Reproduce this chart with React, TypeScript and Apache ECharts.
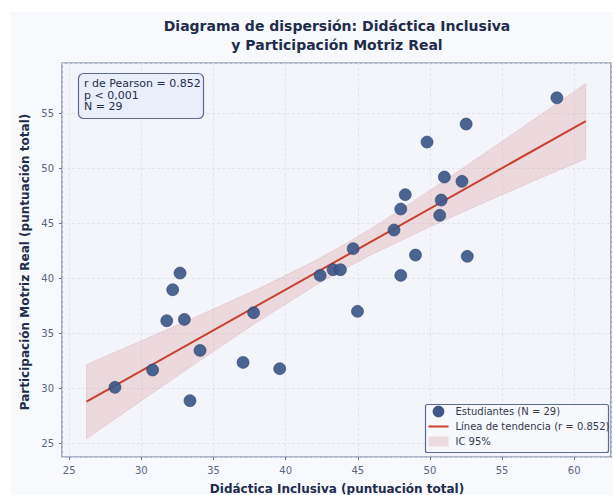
import React, { useEffect, useRef } from "react";
import * as echarts from "echarts";

const studentsX = [28.17, 30.78, 31.76, 32.17, 32.68, 32.98, 33.37, 34.07, 37.05, 37.78, 39.59, 42.39, 43.29, 43.8, 44.68, 44.98, 47.51, 47.98, 47.98, 48.29, 49.0, 49.8, 50.68, 50.78, 51.0, 52.22, 52.51, 52.59, 58.8];
const studentsY = [30.06, 31.64, 36.12, 38.94, 40.45, 36.24, 28.85, 33.42, 32.33, 36.85, 31.76, 40.24, 40.76, 40.76, 42.67, 36.97, 44.36, 46.27, 40.24, 47.58, 42.09, 52.36, 45.7, 47.09, 49.18, 48.79, 54.0, 41.97, 56.39];

const trendX = [26.2, 60.8];
const trendY = [28.77, 54.27];

const bandX = [26.2, 30, 34, 38, 42, 44, 46, 50, 54, 58, 60.8];
const bandLow = [25.39, 28.85, 32.45, 35.98, 39.28, 40.78, 42.16, 44.66, 47.0, 49.28, 50.85];
const bandHigh = [32.15, 34.29, 36.59, 38.96, 41.54, 43.0, 44.56, 47.96, 51.52, 55.14, 57.69];

const NAME_PTS = "Estudiantes (N = 29)";
const NAME_LINE = "Línea de tendencia (r = 0.852)";
const NAME_BAND = "IC 95%";

const FONT = "DejaVu Sans";
const NAVY = "#1f2d4d";
const PT_COLOR = "#3d5889";
const LINE_COLOR = "#c8412f";
const BAND_FILL = "rgba(208,128,134,0.24)";

export default function App() {
  const ref = useRef<HTMLDivElement>(null);
  useEffect(() => {
    if (!ref.current) return;
    const chart = echarts.init(ref.current, undefined, { renderer: "svg" });
    const fmt = (v: number) => (Math.abs(v % 5) < 1e-6 ? String(Math.round(v)) : "");
    const axisCommon = {
      type: "value",
      splitNumber: 7,
      axisLine: { show: false },
      axisTick: { show: true, inside: false, length: 3, lineStyle: { color: "#6a7797" } },
      axisLabel: { color: "#5b6580", fontSize: 10, fontFamily: FONT, formatter: fmt, showMinLabel: false, showMaxLabel: false },
      splitLine: { show: true, lineStyle: { color: "#dde1ea", type: [3, 2], width: 0.8 } },
    };
    const lgX = 425.5, lgY = 404.5;
    const legendTxt = (text: string, y: number) => ({
      type: "text", x: lgX + 30, y, z: 31,
      style: { text, textAlign: "left", textVerticalAlign: "middle", font: `10px '${FONT}'`, fill: "#333a4d" },
    });
    chart.setOption({
      animation: false,
      backgroundColor: "#ffffff",
      graphic: [
        { type: "rect", z: -10, silent: true, shape: { x: 10, y: 12, width: 620, height: 500 }, style: { fill: "#f8f9fc" } },
        {
          type: "text", x: 337, y: 16, z: 10,
          style: { text: "Diagrama de dispersión: Didáctica Inclusiva\ny Participación Motriz Real", textAlign: "center", textVerticalAlign: "top", font: `bold 14px '${FONT}'`, fill: NAVY, lineHeight: 19 },
        },
        {
          type: "text", x: 337, y: 489, z: 10,
          style: { text: "Didáctica Inclusiva (puntuación total)", textAlign: "center", textVerticalAlign: "middle", font: `bold 12px '${FONT}'`, fill: NAVY },
        },
        {
          type: "text", x: 25, y: 262, rotation: Math.PI / 2, z: 10,
          style: { text: "Participación Motriz Real (puntuación total)", textAlign: "center", textVerticalAlign: "middle", font: `bold 12px '${FONT}'`, fill: NAVY },
        },
        {
          type: "rect", z: 20, shape: { x: 78.5, y: 73.5, width: 125, height: 45, r: 5 },
          style: { fill: "#e9eefa", stroke: "#5c6b91", lineWidth: 1.2 },
        },
        {
          type: "text", x: 84, y: 78, z: 21,
          style: { text: "r de Pearson = 0.852\np < 0,001\nN = 29", textAlign: "left", textVerticalAlign: "top", font: `11px '${FONT}'`, fill: NAVY, lineHeight: 11.5 },
        },
        {
          type: "rect", z: 30, shape: { x: lgX, y: lgY, width: 183, height: 48, r: 2 },
          style: { fill: "#f6f8fc", stroke: "#5c6b91", lineWidth: 1.2 },
        },
        { type: "circle", z: 31, shape: { cx: lgX + 13, cy: lgY + 7, r: 5.5 }, style: { fill: PT_COLOR, stroke: "#2a3d66", lineWidth: 0.6 } },
        { type: "line", z: 31, shape: { x1: lgX + 3, y1: lgY + 22, x2: lgX + 23, y2: lgY + 22 }, style: { stroke: LINE_COLOR, lineWidth: 2 } },
        { type: "rect", z: 31, shape: { x: lgX + 3, y: lgY + 32, width: 20, height: 10 }, style: { fill: BAND_FILL } },
        legendTxt(NAME_PTS, lgY + 7),
        legendTxt(NAME_LINE, lgY + 22),
        legendTxt(NAME_BAND, lgY + 37),
      ],
      grid: { left: 62, top: 63, right: 2, bottom: 38, show: true, borderColor: "#6a7797", borderWidth: 1.2, backgroundColor: "#f3f5fa" },
      xAxis: { ...axisCommon, min: 24.5, max: 62.55 },
      yAxis: { ...axisCommon, min: 23.73, max: 59.55 },
      series: [
        {
          type: "custom", name: NAME_BAND, z: 1,
          itemStyle: { color: BAND_FILL },
          data: bandX.map((x, i) => [x, bandLow[i], bandHigh[i]]),
          encode: { x: 0, y: [1, 2] },
          renderItem: (params: any, api: any) => {
            if (params.dataIndex !== 0) return null;
            const up = bandX.map((x, i) => api.coord([x, bandHigh[i]]));
            const lo = bandX.map((x, i) => api.coord([x, bandLow[i]])).reverse();
            return { type: "polygon", shape: { points: up.concat(lo) }, style: { fill: BAND_FILL, stroke: "rgba(200,120,130,0.25)", lineWidth: 0.8 } };
          },
        },
        {
          type: "line", name: NAME_LINE, z: 3, symbol: "none",
          data: trendX.map((x, i) => [x, trendY[i]]),
          lineStyle: { color: LINE_COLOR, width: 2 },
          itemStyle: { color: LINE_COLOR },
        },
        {
          type: "scatter", name: NAME_PTS, z: 4, symbolSize: 12,
          data: studentsX.map((x, i) => [x, studentsY[i]]),
          itemStyle: { color: PT_COLOR, opacity: 0.92, borderColor: "#2a3d66", borderWidth: 0.6 },
        },
      ],
    });
    return () => chart.dispose();
  }, []);
  return <div ref={ref} style={{ position: "fixed", left: 0, top: 0, width: 613, height: 495 }} />;
}
